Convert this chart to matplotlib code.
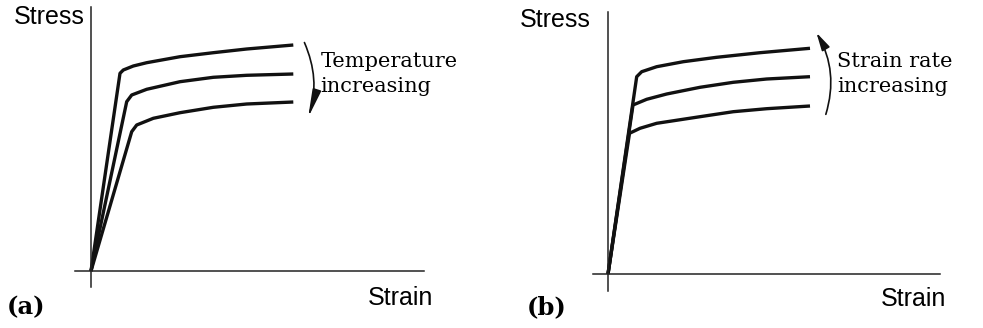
import matplotlib.pyplot as plt
from matplotlib.patches import FancyArrowPatch

# stress-strain curves, arbitrary units
# (a) temperature effect: three curves, all from the origin
strain_a_top = [0, 0.29, 0.323, 0.423, 0.557, 0.89, 1.223, 1.557, 2.023]
stress_a_top = [0, 1.977, 2.01, 2.05, 2.083, 2.143, 2.183, 2.22, 2.26]
strain_a_mid = [0, 0.357, 0.407, 0.557, 0.89, 1.223, 1.557, 2.023]
stress_a_mid = [0, 1.693, 1.76, 1.817, 1.893, 1.937, 1.957, 1.97]
strain_a_low = [0, 0.407, 0.457, 0.623, 0.89, 1.223, 1.557, 2.023]
stress_a_low = [0, 1.393, 1.46, 1.527, 1.583, 1.637, 1.67, 1.69]

# (b) strain rate effect: common elastic line, three plastic branches
strain_b_top = [0, 0.287, 0.337, 0.487, 0.753, 1.087, 1.52, 2.02]
stress_b_top = [0, 1.973, 2.023, 2.073, 2.123, 2.167, 2.213, 2.257]
strain_b_mid = [0, 0.25, 0.387, 0.587, 0.92, 1.253, 1.587, 2.02]
stress_b_mid = [0, 1.69, 1.747, 1.80, 1.867, 1.917, 1.95, 1.973]
strain_b_low = [0, 0.215, 0.32, 0.487, 0.92, 1.253, 1.587, 2.02]
stress_b_low = [0, 1.407, 1.457, 1.507, 1.573, 1.623, 1.653, 1.68]

fig = plt.figure(figsize=(9.83, 3.28), dpi=100)
W, H = 983, 328


def panel(left, bottom, right, top, origin):
    # axes box in pixels, data units = pixels / 100 from the origin
    ax = fig.add_axes([left / W, (H - bottom) / H, (right - left) / W, (bottom - top) / H])
    ox, oy = origin
    ax.set_xlim((left - ox) / 100, (right - ox) / 100)
    ax.set_ylim((oy - bottom) / 100, (oy - top) / 100)
    for s in ["top", "right"]:
        ax.spines[s].set_visible(False)
    for s in ["left", "bottom"]:
        ax.spines[s].set_position(("data", 0))
        ax.spines[s].set_linewidth(1.1)
        ax.spines[s].set_color("#222222")
    ax.set_xticks([])
    ax.set_yticks([])
    ax.patch.set_alpha(0)
    return ax


sans = "Liberation Sans"
serif = "DejaVu Serif"
lw = 2.4

# ---- (a) ----
ax1 = panel(75, 287, 424, 7, (91, 271))
for xs, ys in [(strain_a_top, stress_a_top), (strain_a_mid, stress_a_mid), (strain_a_low, stress_a_low)]:
    ax1.plot(xs, ys, color="#111111", lw=lw, solid_capstyle="butt", solid_joinstyle="round", clip_on=False)

xe = strain_a_top[-1]
arr = FancyArrowPatch((xe + 0.10, stress_a_top[-1] + 0.05), (xe + 0.14, stress_a_low[-1] - 0.18),
                      connectionstyle="arc3,rad=-0.2",
                      arrowstyle="-|>,head_length=1.4,head_width=0.22",
                      mutation_scale=12, lw=1.2, color="#111111", clip_on=False)
ax1.add_patch(arr)
ax1.text(xe + 0.27, 2.19, "Temperature\nincreasing", fontsize=15, family=serif,
         ha="left", va="top", linespacing=1.4)
ax1.text(-0.06, 2.66, "Stress", fontsize=18, family=sans, ha="right", va="top")
ax1.text(3.42, -0.15, "Strain", fontsize=18, family=sans, ha="right", va="top")
ax1.text(-0.84, -0.43, "(a)", fontsize=17.5, family=serif, weight="bold", ha="left", va="baseline")

# ---- (b) ----
ax2 = panel(593, 291, 940, 12, (608, 274))
for xs, ys in [(strain_b_top, stress_b_top), (strain_b_mid, stress_b_mid), (strain_b_low, stress_b_low)]:
    ax2.plot(xs, ys, color="#111111", lw=lw, solid_capstyle="butt", solid_joinstyle="round", clip_on=False)

xe = strain_b_top[-1]
arr = FancyArrowPatch((xe + 0.15, stress_b_low[-1] - 0.11), (xe + 0.05, stress_b_top[-1] + 0.18),
                      connectionstyle="arc3,rad=0.23",
                      arrowstyle="-|>,head_length=0.9,head_width=0.22",
                      mutation_scale=12, lw=1.2, color="#111111", clip_on=False)
ax2.add_patch(arr)
ax2.text(xe + 0.27, 2.22, "Strain rate\nincreasing", fontsize=15, family=serif,
         ha="left", va="top", linespacing=1.4)
ax2.text(-0.17, 2.66, "Stress", fontsize=18, family=sans, ha="right", va="top")
ax2.text(3.38, -0.13, "Strain", fontsize=18, family=sans, ha="right", va="top")
ax2.text(-0.81, -0.40, "(b)", fontsize=17.5, family=serif, weight="bold", ha="left", va="baseline")

fig.savefig("out.png", dpi=100, facecolor="white")
